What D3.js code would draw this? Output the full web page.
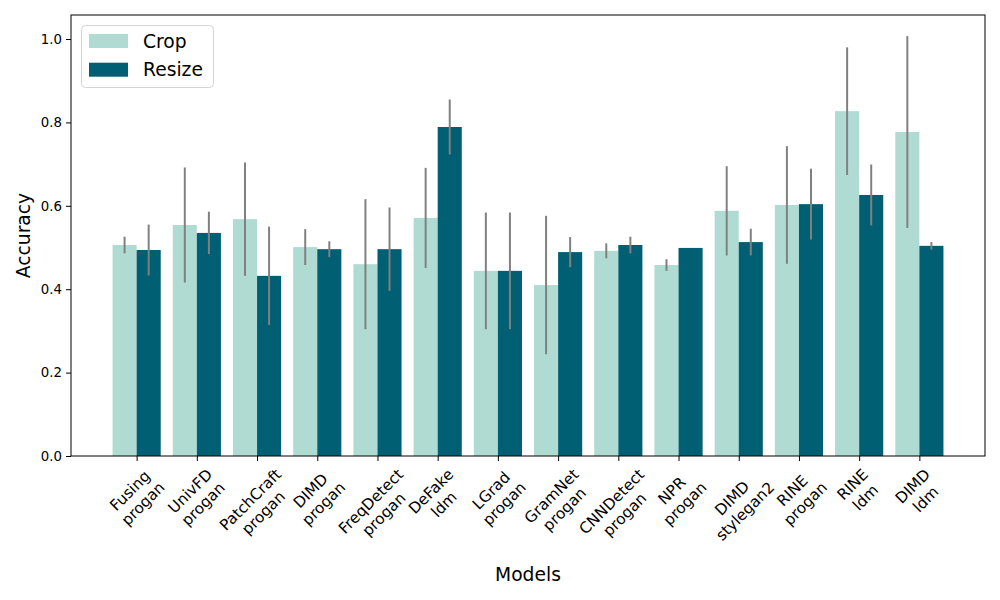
<!DOCTYPE html>
<html><head><meta charset="utf-8">
<script src="https://cdn.jsdelivr.net/npm/d3@7"></script>
<style>body{margin:0;background:#fff}svg{display:block}text{font-family:"DejaVu Sans",sans-serif}</style>
</head><body>
<svg id="chart" width="1000" height="600"></svg>
<script>
const models = ["Fusing\nprogan","UnivFD\nprogan","PatchCraft\nprogan","DIMD\nprogan","FreqDetect\nprogan","DeFake\nldm","LGrad\nprogan","GramNet\nprogan","CNNDetect\nprogan","NPR\nprogan","DIMD\nstylegan2","RINE\nprogan","RINE\nldm","DIMD\nldm"];
const cropMean = [0.506,0.554,0.568,0.501,0.460,0.571,0.444,0.410,0.492,0.458,0.588,0.602,0.827,0.777];
const cropErr  = [0.020,0.138,0.136,0.043,0.156,0.120,0.140,0.166,0.018,0.014,0.107,0.141,0.153,0.230];
const resizeMean = [0.494,0.535,0.432,0.496,0.496,0.789,0.444,0.489,0.506,0.499,0.513,0.604,0.626,0.504];
const resizeErr  = [0.061,0.051,0.118,0.019,0.100,0.066,0.140,0.036,0.020,0.000,0.032,0.085,0.073,0.009];
const yTicks = [0,0.2,0.4,0.6,0.8,1.0];
const seriesNames = ["Crop","Resize"];
const colors = ["#b0dbd3","#005f73"];

const svg = d3.select("#chart");
const L=71,R=985,T=15,B=456;
const x = d3.scaleLinear().domain([-1.09,14.09]).range([L,R]);
const y = d3.scaleLinear().domain([0,1.0576]).range([B,T]);
const bw = 0.4;

const series = [
  {name:seriesNames[0], mean:cropMean, err:cropErr, off:-0.2, color:colors[0]},
  {name:seriesNames[1], mean:resizeMean, err:resizeErr, off:0.2, color:colors[1]}
];

series.forEach(s=>{
  svg.append("g").selectAll("rect").data(s.mean).join("rect")
    .attr("x",(d,i)=>x(i+s.off-bw/2))
    .attr("width",x(bw)-x(0))
    .attr("y",d=>y(d))
    .attr("height",d=>y(0)-y(d))
    .attr("fill",s.color);
});
series.forEach(s=>{
  svg.append("g").selectAll("line").data(s.mean).join("line")
    .attr("x1",(d,i)=>x(i+s.off)).attr("x2",(d,i)=>x(i+s.off))
    .attr("y1",(d,i)=>y(d-s.err[i])).attr("y2",(d,i)=>y(d+s.err[i]))
    .attr("stroke","#808080").attr("stroke-width",2)
    .attr("display",(d,i)=>s.err[i]>0?null:"none");
});

// frame
svg.append("rect").attr("x",L).attr("y",T).attr("width",R-L).attr("height",B-T)
  .attr("fill","none").attr("stroke","#000").attr("stroke-width",1);

// y axis
const yAxis = svg.append("g").attr("transform",`translate(${L},0)`)
  .call(d3.axisLeft(y).tickValues(yTicks).tickFormat(d3.format(".1f")).tickSize(5).tickPadding(4));
yAxis.select(".domain").remove();
yAxis.selectAll("text").attr("font-size","13.3px").attr("fill","#000").attr("font-family","DejaVu Sans");

// x axis ticks
const xAxis = svg.append("g").attr("transform",`translate(0,${B})`)
  .call(d3.axisBottom(x).tickValues(d3.range(models.length)).tickFormat("").tickSize(5));
xAxis.select(".domain").remove();

// x labels rotated 45, centered bbox
const fs = 15.3;
models.forEach((m,i)=>{
  const lines = m.split("\n");
  const g = svg.append("g");
  const inner = g.append("g");
  const t = inner.append("text").attr("text-anchor","middle").attr("font-size",fs+"px").attr("fill","#000");
  lines.forEach((ln,j)=>{
    t.append("tspan").attr("x",0).attr("y",j*fs*1.2).text(ln);
  });
  const bb = t.node().getBBox();
  // rotate -45 around origin
  inner.attr("transform","rotate(-45)");
  const a = -Math.PI/4;
  const corners = [[bb.x,bb.y],[bb.x+bb.width,bb.y],[bb.x,bb.y+bb.height],[bb.x+bb.width,bb.y+bb.height]]
    .map(([px,py])=>[px*Math.cos(a)-py*Math.sin(a), px*Math.sin(a)+py*Math.cos(a)]);
  const minX=d3.min(corners,c=>c[0]), maxX=d3.max(corners,c=>c[0]), minY=d3.min(corners,c=>c[1]);
  const cx=(minX+maxX)/2;
  g.attr("transform",`translate(${x(i)-cx},${B+5+4.5-minY})`);
});

// axis titles
svg.append("text").attr("x",(L+R)/2).attr("y",581).attr("text-anchor","middle")
  .attr("font-size","18.7px").text("Models");
svg.append("text").attr("transform",`translate(30,${(T+B)/2}) rotate(-90)`).attr("text-anchor","middle")
  .attr("font-size","18.7px").text("Accuracy");

// legend
const lg = svg.append("g");
lg.append("rect").attr("x",81.5).attr("y",25.5).attr("width",132).attr("height",62).attr("rx",4)
  .attr("fill","#fff").attr("fill-opacity",0.8).attr("stroke","#d5d5d5");
series.forEach((s,k)=>{
  lg.append("rect").attr("x",89).attr("y",34+k*28.7).attr("width",39).attr("height",14).attr("fill",s.color);
  lg.append("text").attr("x",143).attr("y",47.5+k*28.7).attr("font-size","18.7px").text(s.name);
});
</script>
</body></html>
